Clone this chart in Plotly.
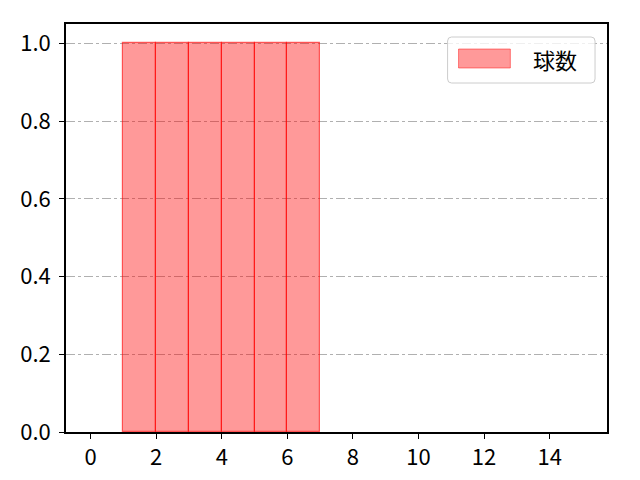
import plotly.graph_objects as go

bin_left = [1, 2, 3, 4, 5, 6]
counts = [1, 1, 1, 1, 1, 1]
series_name = "球数"
x_ticks = [0, 2, 4, 6, 8, 10, 12, 14]
y_ticks = [0.0, 0.2, 0.4, 0.6, 0.8, 1.0]

fig = go.Figure()
fig.add_trace(go.Bar(
    x=[b + 0.5 for b in bin_left], y=counts, width=1,
    name=series_name,
    marker=dict(color="rgba(255,0,0,0.4)", line=dict(color="rgba(255,0,0,0.6)", width=1.2)),
    showlegend=False,
))

# manual legend (matplotlib-style wide patch)
px_l, px_r, px_t, px_b = 64, 607, 24, 432
def fx(p):
    return (p - px_l) / (px_r - px_l)
def fy(p):
    return (px_b - p) / (px_b - px_t)

bx0, bx1, by0, by1 = fx(447), fx(595), fy(83), fy(37)
rx, ry = 4 / (px_r - px_l), 4 / (px_b - px_t)
path = (f"M {bx0+rx},{by0} L {bx1-rx},{by0} Q {bx1},{by0} {bx1},{by0+ry} "
        f"L {bx1},{by1-ry} Q {bx1},{by1} {bx1-rx},{by1} L {bx0+rx},{by1} "
        f"Q {bx0},{by1} {bx0},{by1-ry} L {bx0},{by0+ry} Q {bx0},{by0} {bx0+rx},{by0} Z")
fig.add_shape(type="path", path=path, xref="paper", yref="paper",
              fillcolor="rgba(255,255,255,0.8)", line=dict(color="#cccccc", width=1))
fig.add_shape(type="rect", xref="paper", yref="paper",
              x0=fx(458), x1=fx(510), y0=fy(68), y1=fy(49),
              fillcolor="rgba(255,0,0,0.4)", line=dict(color="rgba(255,0,0,0.45)", width=1))
fig.add_annotation(text=series_name, xref="paper", yref="paper", x=fx(531), y=fy(59),
                   xanchor="left", yanchor="middle", showarrow=False,
                   font=dict(size=22, color="black"))

font = "Noto Sans CJK JP, DejaVu Sans"
fig.update_layout(
    width=640, height=480,
    margin=dict(l=56, r=41, t=16, b=56),
    paper_bgcolor="white", plot_bgcolor="white",
    font=dict(family=font, size=22, color="black"),
    bargap=0,
    showlegend=False,
    xaxis=dict(range=[-0.75, 15.75], tickvals=x_ticks, ticks="outside", ticklen=5,
               tickwidth=1.2, tickcolor="black", tickfont=dict(size=22),
               showline=True, linecolor="black", linewidth=1.5, mirror=True,
               showgrid=False, zeroline=False),
    yaxis=dict(range=[0, 1.05], tickvals=y_ticks, tickformat=".1f", ticks="outside",
               ticklen=5, tickwidth=1.2, tickcolor="black", tickfont=dict(size=22),
               ticklabelstandoff=4,
               showline=True, linecolor="black", linewidth=1.5, mirror=True,
               showgrid=True, gridcolor="#b0b0b0", gridwidth=0.8, griddash="dashdot",
               zeroline=False),
)
fig.write_html("out.html")
